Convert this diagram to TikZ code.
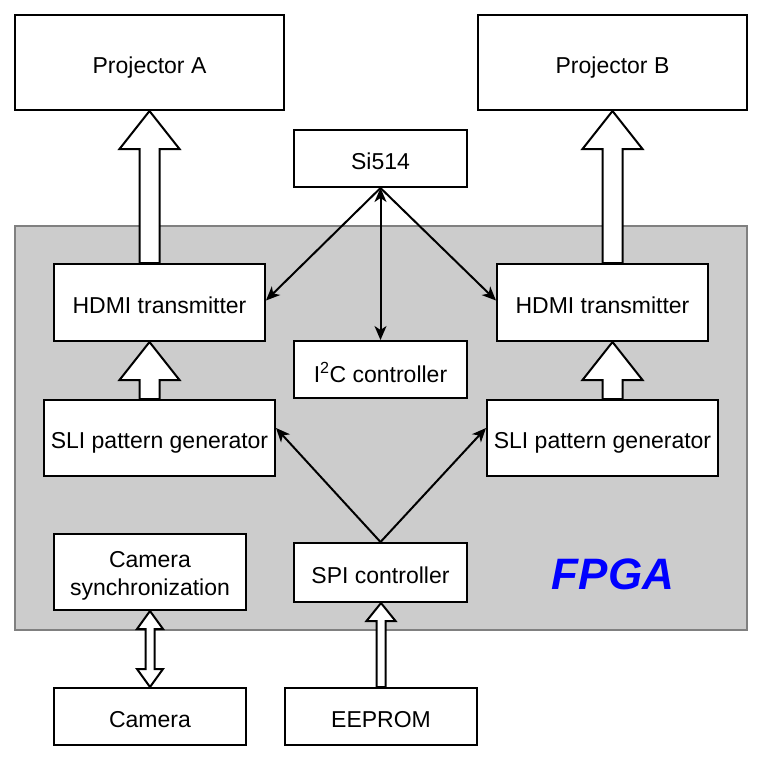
\documentclass[tikz,border=0pt]{standalone}
\usepackage{fontspec}
\setmainfont{Liberation Sans}
\usetikzlibrary{calc,arrows.meta}
\newcommand{\blkup}[5]{%
  \draw[blk] let \p1=(#1), \p2=(#2) in
  (\x1-#5,\y1) -- (\x1-#5,\y2-#3) -- (\x1-#4,\y2-#3) -- (\x1,\y2) --
  (\x1+#4,\y2-#3) -- (\x1+#5,\y2-#3) -- (\x1+#5,\y1) -- cycle;}
\newcommand{\blkdbl}[5]{%
  \draw[blk] let \p1=(#1), \p2=(#2) in
  (\x1,\y1) -- (\x1-#4,\y1+#3) -- (\x1-#5,\y1+#3) -- (\x1-#5,\y2-#3) --
  (\x1-#4,\y2-#3) -- (\x1,\y2) -- (\x1+#4,\y2-#3) -- (\x1+#5,\y2-#3) --
  (\x1+#5,\y1+#3) -- (\x1+#4,\y1+#3) -- cycle;}
\begin{document}
\begin{tikzpicture}[x=1pt,y=-1pt,
  box/.style={draw=black, fill=white, line width=2pt, inner sep=0pt, align=center,
    text height=21pt, text depth=0pt,
    font=\fontsize{23}{28}\selectfont},
  blk/.style={draw=black, fill=white, line width=2pt, line join=miter},
  arr/.style={draw=black, line width=2pt, -{Stealth[length=14pt,width=12pt,inset=4pt]}},
  darr/.style={draw=black, line width=2pt, {Stealth[length=14pt,width=12pt,inset=4pt]}-{Stealth[length=14pt,width=12pt,inset=4pt]}}]
\useasboundingbox (0,0) rectangle (779,763);
\fill[white] (0,0) rectangle (779,763);
% FPGA region
\draw[fill=black!20, draw=black!50, line width=2pt] (15,226) rectangle (747,630);
% boxes
\node[box, minimum width=269pt, minimum height=95pt] (projA) at (149.5,62.5) {Projector A};
\node[box, minimum width=269pt, minimum height=95pt] (projB) at (612.5,62.5) {Projector B};
\node[box, minimum width=173pt, minimum height=57pt] (si) at (380.5,158.5) {Si514};
\node[box, minimum width=211pt, minimum height=77pt] (hdmiA) at (159.5,302.5) {HDMI transmitter};
\node[box, minimum width=211pt, minimum height=77pt] (hdmiB) at (602.5,302.5) {HDMI transmitter};
\node[box, minimum width=173pt, minimum height=57pt, text height=26pt] (i2c) at (380.5,369.5) {I\textsuperscript{2}C controller};
\node[box, minimum width=231pt, minimum height=76pt] (sliA) at (159.5,438) {SLI pattern generator};
\node[box, minimum width=231pt, minimum height=76pt] (sliB) at (602.5,438) {SLI pattern generator};
\node[box, minimum width=192pt, minimum height=76pt, text height=46pt, text depth=0pt] (camsync) at (150,572) {Camera\\synchronization};
\node[box, minimum width=173pt, minimum height=59pt] (spi) at (380.5,572.5) {SPI controller};
\node[box, minimum width=192pt, minimum height=57pt] (cam) at (150,716.5) {Camera};
\node[box, minimum width=192pt, minimum height=57pt] (eeprom) at (381,716.5) {EEPROM};
\node[text=blue, font=\bfseries\itshape\fontsize{44}{50}\selectfont] (fpgalabel) at (613,574) {FPGA};
% block arrows
\blkup{hdmiA.north -| projA.south}{projA.south}{38pt}{30pt}{10pt}
\blkup{hdmiB.north -| projB.south}{projB.south}{38pt}{30pt}{10pt}
\blkup{sliA.north -| projA.south}{hdmiA.south -| projA.south}{38pt}{30pt}{10pt}
\blkup{sliB.north -| projB.south}{hdmiB.south -| projB.south}{38pt}{30pt}{10pt}
\blkdbl{cam.north}{camsync.south}{18pt}{13pt}{4.5pt}
\blkup{eeprom.north}{spi.south -| eeprom.north}{18pt}{14.5pt}{4.5pt}
% thin arrows
\draw[arr] (si.south) -- ($(hdmiA.east)+(0,-2)$);
\draw[arr] (si.south) -- ($(hdmiB.west)+(0,-2)$);
\draw[darr] (si.south) -- (i2c.north);
\draw[arr] (spi.north) -- ($(sliA.east)+(0,-10)$);
\draw[arr] (spi.north) -- ($(sliB.west)+(0,-10)$);
\end{tikzpicture}
\end{document}
